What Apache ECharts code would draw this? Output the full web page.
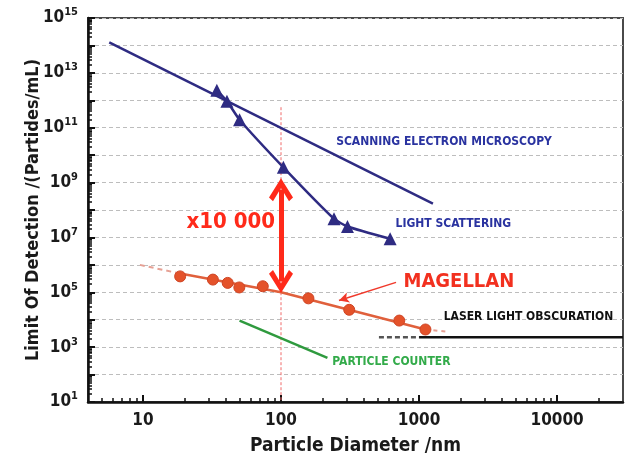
<!DOCTYPE html>
<html><head><meta charset="utf-8">
<script src="https://cdn.jsdelivr.net/npm/echarts@6/dist/echarts.min.js"></script>
<style>html,body{margin:0;padding:0;background:#fff}#c{width:634px;height:456px}</style>
</head><body><div id="c"></div>
<script>
const FONT = "'Liberation Sans Narrow','DejaVu Sans Condensed','Liberation Sans',sans-serif";

// ---- axis ticks ----
const xMajorTicks = [10, 100, 1000, 10000];
const xMinorTicks = [5,6,7,8,9,20,30,40,50,60,70,80,90,200,300,400,500,600,700,800,900,2000,3000,4000,5000,6000,7000,8000,9000,20000];
const yDecadeTicks = [1e1,1e2,1e3,1e4,1e5,1e6,1e7,1e8,1e9,1e10,1e11,1e12,1e13,1e14,1e15];
const yLabelTicks = [1e1,1e3,1e5,1e7,1e9,1e11,1e13,1e15];
const yMinorTicks = [];
for (const d of yDecadeTicks.slice(0,-1)) for (const m of [2,3,4,5,6,7,8,9]) yMinorTicks.push(d*m);

// ---- series data (diameter nm, LOD particles/mL) ----
const semDiam = [5.7, 1260];
const semLOD  = [1.3e14, 1.7e8];

const lsDiam = [34.3, 40.6, 50.1, 104, 242, 303, 617];
const lsLOD  = [2.3e12, 9.3e11, 1.96e11, 3.6e9, 4.8e7, 2.5e7, 8.9e6];

const magDiam = [18.6, 32.1, 41.1, 49.9, 73.8, 158, 312, 719, 1112];
const magLOD  = [3.8e5, 2.9e5, 2.2e5, 1.5e5, 1.66e5, 6.0e4, 2.3e4, 9.3e3, 4.4e3];

const magFitDiam = [18.6, 100, 1112];
const magFitLOD  = [4.8e5, 1.0e5, 4.4e3];
const magExtLowDiam = [9.5, 18.6];
const magExtLowLOD  = [1.0e6, 4.8e5];
const magExtHighDiam = [1112, 1570];
const magExtHighLOD  = [4.4e3, 3.7e3];

const pcDiam = [50.1, 217];
const pcLOD  = [9.3e3, 405];

const laserDiam = [1000, 30000];
const laserLOD  = [2.3e3, 2.3e3];
const laserDashDiam = [512, 1000];
const laserDashLOD  = [2.3e3, 2.3e3];

const refDiam = [100, 100];
const refLOD  = [5.6e11, 10];

const bigArrowDiam = [100, 100];
const bigArrowLOD  = [5.5e8, 2.45e5];

const magArrowDiam = [681, 263];
const magArrowLOD  = [2.3e5, 5.0e4];

const annoText = ['SCANNING ELECTRON MICROSCOPY','LIGHT SCATTERING','LASER LIGHT OBSCURATION','PARTICLE COUNTER','MAGELLAN','x10 000'];
const annoDiam = [253, 681, 1520, 237, 778, 43.6];
const annoLOD  = [2.97e10, 2.95e7, 1.23e4, 280, 2.25e5, 3.5e7];
const annoColor = ['#2a33a0','#2a33a0','#111111','#33ab4a','#f2301f','#ff2a1a'];
const annoSize  = [12, 12, 12, 12, 20, 22];
const annoAlign = ['left','left','left','left','left','center'];

const zip = (a, b) => a.map((v, i) => [v, b[i]]);

const xBase = {type: 'log', logBase: 10, min: 4, max: 30000, gridIndex: 0, position: 'bottom'};
const yBase = {type: 'log', logBase: 10, min: 10, max: 1e15, gridIndex: 0, position: 'left'};
// nudge the top value just inside the axis extent so float rounding of the log scale does not drop it
const inside = arr => arr.map(v => v >= yBase.max ? v * (1 - 1e-9) : v);

const chart = echarts.init(document.getElementById('c'), null, {renderer: 'canvas'});
const chevron = 'path://M12,0 L24,19 L20,22.5 L12,9.5 L4,22.5 L0,19 Z';

const option = {
  animation: false,
  backgroundColor: '#fff',
  grid: {left: 88, right: 11, top: 18, bottom: 54, containLabel: false, outerBoundsMode: 'none',
         show: true, borderColor: '#4a4a4a', borderWidth: 2, backgroundColor: 'transparent'},
  xAxis: [
    Object.assign({}, xBase, {
      name: 'Particle Diameter /nm', nameLocation: 'middle', nameGap: 35,
      nameTextStyle: {fontFamily: FONT, fontWeight: 'bold', fontSize: 19, color: '#1a1a1a'},
      axisLine: {show: true, lineStyle: {color: '#111', width: 2.5}},
      axisTick: {show: true, inside: true, length: 7, lineStyle: {color: '#111', width: 2}, customValues: xMajorTicks},
      axisLabel: {show: true, customValues: xMajorTicks, margin: 10, formatter: v => String(Math.round(v)),
        fontFamily: FONT, fontWeight: 'bold', fontSize: 17, color: '#1a1a1a'},
      splitLine: {show: false}, minorTick: {show: false}
    }),
    Object.assign({}, xBase, {
      axisLine: {show: false},
      axisTick: {show: true, inside: true, length: 4, lineStyle: {color: '#111', width: 1.5}, customValues: xMinorTicks},
      axisLabel: {show: false}, splitLine: {show: false}
    })
  ],
  yAxis: [
    Object.assign({}, yBase, {
      name: 'Limit Of Detection /(Partides/mL)', nameLocation: 'middle', nameGap: 46, nameRotate: 90,
      nameMoveOverlap: false,
      nameTextStyle: {fontFamily: FONT, fontWeight: 'bold', fontSize: 18, color: '#1a1a1a'},
      axisLine: {show: true, lineStyle: {color: '#111', width: 2.5}},
      axisTick: {show: true, inside: true, length: 7, lineStyle: {color: '#111', width: 2}, customValues: inside(yDecadeTicks)},
      axisLabel: {show: true, customValues: inside(yLabelTicks), margin: 10, showMinLabel: true, showMaxLabel: true,
        formatter: v => '{b|10}{s|' + Math.round(Math.log10(v)) + '}',
        rich: {
          b: {fontFamily: FONT, fontWeight: 'bold', fontSize: 17, color: '#1a1a1a', lineHeight: 22},
          s: {fontFamily: FONT, fontWeight: 'bold', fontSize: 11, color: '#1a1a1a', lineHeight: 12, verticalAlign: 'top'}
        }},
      splitLine: {show: true, lineStyle: {color: '#bdbdbd', width: 1, type: [4, 3]}}
    }),
    Object.assign({}, yBase, {
      axisLine: {show: false},
      axisTick: {show: true, inside: true, length: 4, lineStyle: {color: '#111', width: 1.5}, customValues: yMinorTicks},
      axisLabel: {show: false}, splitLine: {show: false}
    })
  ],
  series: [
    {type: 'line', name: 'ref', data: zip(refDiam, refLOD), symbol: 'none',
     lineStyle: {color: '#f06a6a', width: 1, type: [3, 2]}, z: 1},
    {type: 'line', name: 'SEM', data: zip(semDiam, semLOD), symbol: 'none',
     lineStyle: {color: '#2e2b82', width: 2.5}},
    {type: 'line', name: 'Light scattering', data: zip(lsDiam, lsLOD), smooth: 0.2,
     symbol: 'triangle', symbolSize: 13, itemStyle: {color: '#2e2b82', opacity: 1},
     lineStyle: {color: '#2e2b82', width: 2.5}},
    {type: 'line', name: 'mag ext low', data: zip(magExtLowDiam, magExtLowLOD), symbol: 'none',
     lineStyle: {color: '#e6a094', width: 2, type: [5, 4]}},
    {type: 'line', name: 'mag ext high', data: zip(magExtHighDiam, magExtHighLOD), symbol: 'none',
     lineStyle: {color: '#e6a094', width: 2, type: [4, 4]}},
    {type: 'line', name: 'Magellan fit', data: zip(magFitDiam, magFitLOD), symbol: 'none',
     lineStyle: {color: '#e0603c', width: 2.5}},
    {type: 'scatter', name: 'Magellan', data: zip(magDiam, magLOD), symbol: 'circle', symbolSize: 11,
     itemStyle: {color: '#e4522a', borderColor: '#cf4424', borderWidth: 1, opacity: 1}, z: 5},
    {type: 'line', name: 'Particle counter', data: zip(pcDiam, pcLOD), symbol: 'none',
     lineStyle: {color: '#2f9a3e', width: 2.5}},
    {type: 'line', name: 'laser dash', data: zip(laserDashDiam, laserDashLOD), symbol: 'none',
     lineStyle: {color: '#555', width: 2.5, type: [5, 3]}},
    {type: 'line', name: 'Laser', data: zip(laserDiam, laserLOD), symbol: 'none',
     lineStyle: {color: '#111', width: 2.5}},
    {type: 'line', name: 'arrows', data: [], symbol: 'none',
     markLine: {silent: true, animation: false, label: {show: false},
       data: [
         [{coord: [bigArrowDiam[0], bigArrowLOD[0]], symbol: chevron, symbolSize: [24, 23],
           lineStyle: {color: '#ff2a1a', width: 5, type: 'solid'}},
          {coord: [bigArrowDiam[1], bigArrowLOD[1]], symbol: chevron, symbolSize: [24, 23]}],
         [{coord: [magArrowDiam[0], magArrowLOD[0]], symbol: 'none',
           lineStyle: {color: '#f0392b', width: 1.5, type: 'solid'}},
          {coord: [magArrowDiam[1], magArrowLOD[1]], symbol: 'arrow', symbolSize: [8, 10]}]
       ],
       lineStyle: {color: '#ff2a1a'}, itemStyle: {color: '#ff2a1a'}
     }, z: 6},
    {type: 'scatter', name: 'annotations', symbolSize: 1, itemStyle: {color: 'transparent', opacity: 1}, z: 7,
     data: annoText.map((t, i) => ({
       value: [annoDiam[i], annoLOD[i]],
       label: {show: true, formatter: t, position: [0, 0], align: annoAlign[i], verticalAlign: 'middle',
         fontFamily: FONT, fontWeight: 'bold', fontSize: annoSize[i], color: annoColor[i],
         opacity: 1, textBorderWidth: 0}
     }))}
  ]
};
chart.setOption(option);
</script></body></html>
